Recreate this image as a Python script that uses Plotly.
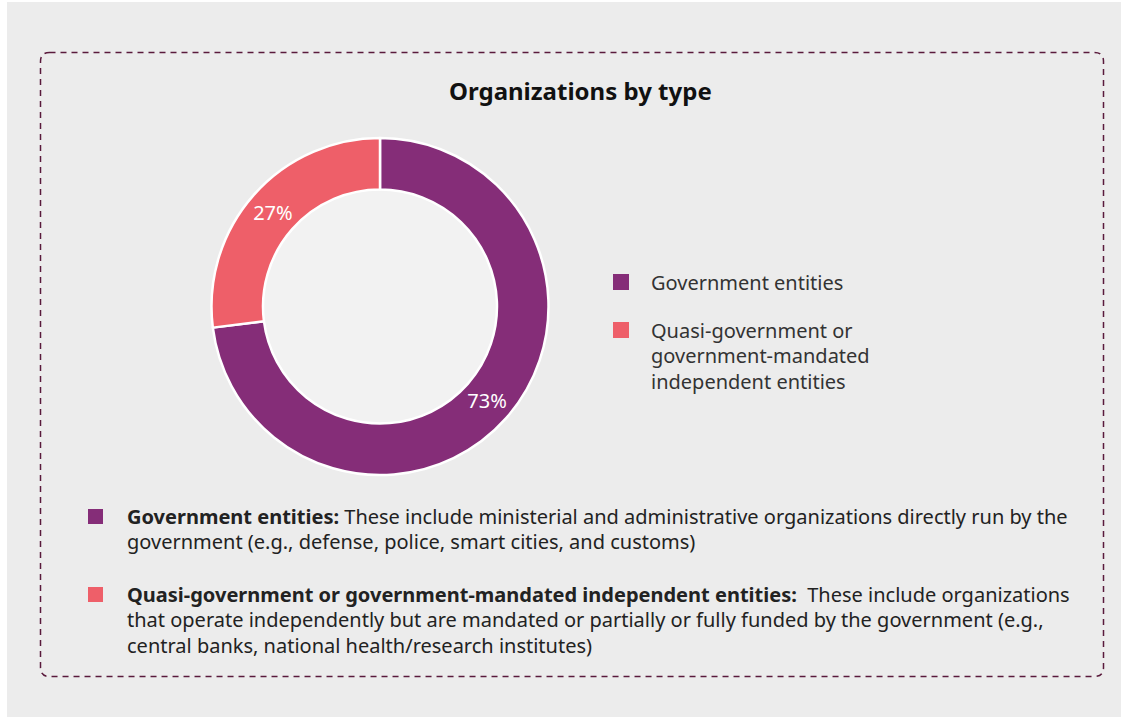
import plotly.graph_objects as go

W, H = 1121, 717

# ---- data ----
categories = ["Government entities", "Quasi-government or government-mandated independent entities"]
values = [73, 27]
colors = ["#852D78", "#EE5F69"]

legend_lines = [
    ["Government entities"],
    ["Quasi-government or", "government-mandated", "independent entities"],
]

note_lines = [
    ["<b>Government entities:</b> These include ministerial and administrative organizations directly run by the",
     "government (e.g., defense, police, smart cities, and customs)"],
    ["<b>Quasi-government or government-mandated independent entities:</b>  These include organizations",
     "that operate independently but are mandated or partially or fully funded by the government (e.g.,",
     "central banks, national health/research institutes)"],
]

title_text = "Organizations by type"
FONT = "Noto Sans, Open Sans, sans-serif"


def px(x):
    return x / W


def py(y):
    return 1 - y / H


# ---- geometry (pixels) ----
cx, cy, R_out, R_in = 380, 306.5, 168.5, 117

fig = go.Figure()
fig.add_trace(go.Pie(
    labels=categories,
    values=values,
    marker=dict(colors=colors, line=dict(color="white", width=2.5)),
    hole=R_in / R_out,
    sort=False,
    direction="clockwise",
    rotation=0,
    textinfo="percent",
    texttemplate="%{percent:.0%}",
    textposition="inside",
    insidetextorientation="horizontal",
    textfont=dict(color="white", size=20, family=FONT),
    domain=dict(x=[px(cx - R_out), px(cx + R_out)], y=[py(cy + R_out), py(cy - R_out)]),
    showlegend=False,
    hoverinfo="label+percent",
))

shapes = []
# gray page background
shapes.append(dict(type="rect", xref="paper", yref="paper", x0=px(7), x1=1, y0=0, y1=py(2),
                   fillcolor="#ECECEC", line=dict(width=0), layer="below"))
# hole fill
shapes.append(dict(type="circle", xref="paper", yref="paper",
                   x0=px(cx - R_in), x1=px(cx + R_in), y0=py(cy + R_in), y1=py(cy - R_in),
                   fillcolor="#F2F2F2", line=dict(width=0), layer="below"))
# dashed rounded frame
L, T, Rr, B, r = 40.5, 52.5, 1103.5, 676.5, 9
path = (f"M {px(L + r)},{py(T)} L {px(Rr - r)},{py(T)} Q {px(Rr)},{py(T)} {px(Rr)},{py(T + r)} "
        f"L {px(Rr)},{py(B - r)} Q {px(Rr)},{py(B)} {px(Rr - r)},{py(B)} "
        f"L {px(L + r)},{py(B)} Q {px(L)},{py(B)} {px(L)},{py(B - r)} "
        f"L {px(L)},{py(T + r)} Q {px(L)},{py(T)} {px(L + r)},{py(T)} Z")
shapes.append(dict(type="path", xref="paper", yref="paper", path=path,
                   line=dict(color="#5A1A3C", width=1.5, dash="6px,5px"), layer="below"))

annotations = []
annotations.append(dict(text=f"<b>{title_text}</b>", x=px(580), y=py(90), xref="paper", yref="paper",
                        xanchor="center", yanchor="middle", showarrow=False,
                        font=dict(size=24, color="#111111", family=FONT)))

# right legend
legend_y = [282, 330]
line_h = 25.5
for i, lines in enumerate(legend_lines):
    y0 = legend_y[i]
    shapes.append(dict(type="rect", xref="paper", yref="paper",
                       x0=px(613), x1=px(629), y0=py(y0 + 8), y1=py(y0 - 8),
                       fillcolor=colors[i], line=dict(width=0)))
    for j, t in enumerate(lines):
        annotations.append(dict(text=t, x=px(649), y=py(y0 + j * line_h), xref="paper", yref="paper",
                                xanchor="left", yanchor="middle", showarrow=False,
                                font=dict(size=20, color="#333333", family=FONT)))

# bottom notes
note_y = [516, 594]
for i, lines in enumerate(note_lines):
    y0 = note_y[i]
    shapes.append(dict(type="rect", xref="paper", yref="paper",
                       x0=px(88), x1=px(103), y0=py(y0 + 8), y1=py(y0 - 7),
                       fillcolor=colors[i], line=dict(width=0)))
    for j, t in enumerate(lines):
        annotations.append(dict(text=t, x=px(125), y=py(y0 + j * line_h), xref="paper", yref="paper",
                                xanchor="left", yanchor="middle", showarrow=False,
                                font=dict(size=20, color="#222222", family=FONT)))

fig.update_layout(
    width=W, height=H,
    margin=dict(l=0, r=0, t=0, b=0),
    paper_bgcolor="white",
    plot_bgcolor="white",
    shapes=shapes,
    annotations=annotations,
    showlegend=False,
)

fig.write_html("out.html")
